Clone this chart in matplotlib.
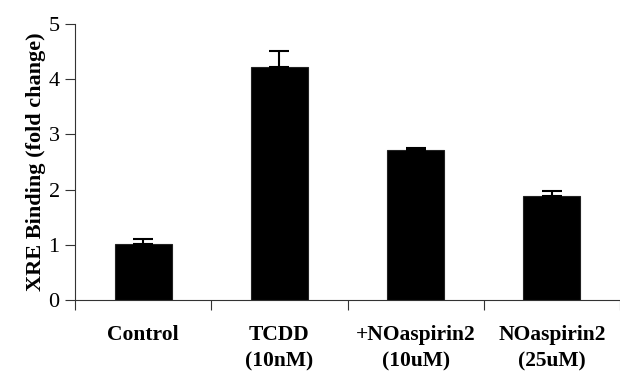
import matplotlib

matplotlib.use("Agg")
import matplotlib.pyplot as plt

categories = ["Control", "TCDD\n(10nM)", "+NOaspirin2\n(10uM)", "NOaspirin2\n(25uM)"]
values = [1.01, 4.22, 2.72, 1.88]
errors = [0.09, 0.29, 0.03, 0.09]
yticks = [0, 1, 2, 3, 4, 5]

plt.rcParams["font.family"] = ["Liberation Serif", "DejaVu Serif"]

fig = plt.figure(figsize=(6.2, 3.73), dpi=100)
ax = fig.add_axes([75 / 620, 1 - 300 / 373, 545 / 620, 276 / 373])

x = list(range(len(categories)))
ax.bar(x, values, width=0.42, color="black", edgecolor="#222222", linewidth=0.8,
       yerr=[[0] * len(errors), errors], capsize=7,
       error_kw={"elinewidth": 1.5, "capthick": 1.5, "ecolor": "black"})

ax.set_xlim(-0.5, len(categories) - 0.5)
ax.set_ylim(0, 5)
ax.set_yticks(yticks)
ax.set_yticklabels([str(t) for t in yticks], fontsize=16)

ax.set_xticks(x)
ax.set_xticklabels(categories, fontsize=15.5, fontweight="bold", linespacing=1.45, va="top")
ax.tick_params(axis="x", length=0, pad=18)
ax.set_xticks([i - 0.5 for i in range(len(categories) + 1)], minor=True)
ax.tick_params(axis="x", which="minor", length=7, width=0.8, color="#333333", direction="out")
ax.tick_params(axis="y", length=7, width=0.8, color="#333333", direction="out", pad=4)

for s in ("top", "right"):
    ax.spines[s].set_visible(False)
for s in ("left", "bottom"):
    ax.spines[s].set_color("#333333")
    ax.spines[s].set_linewidth(0.8)

ax.set_ylabel("XRE Binding (fold change)", fontsize=16, fontweight="bold", labelpad=2)

fig.savefig("out.png", dpi=100)
